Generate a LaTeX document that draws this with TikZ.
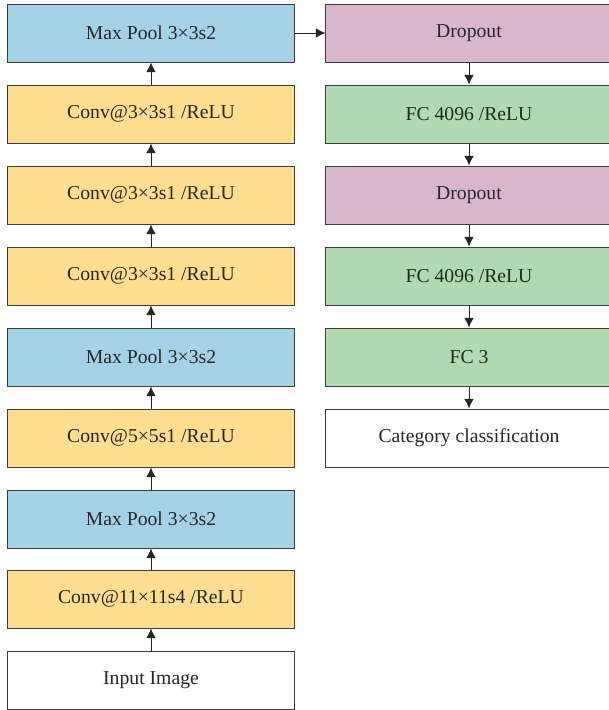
\documentclass[tikz,border=0pt]{standalone}
\usepackage{fontspec}
\setmainfont{Liberation Serif}
\usetikzlibrary{arrows.meta}

\definecolor{poolblue}{RGB}{166,210,232}
\definecolor{convyellow}{RGB}{253,222,145}
\definecolor{droppink}{RGB}{216,182,203}
\definecolor{fcgreen}{RGB}{176,218,178}
\definecolor{edgegray}{RGB}{60,60,60}

\begin{document}
\begin{tikzpicture}[
    x=0.025cm, y=-0.025cm,
    every node/.style={font=\fontsize{14}{16}\selectfont, text=black!85},
    layer/.style={rectangle, draw=edgegray, line width=0.7pt, minimum width=7.15cm, minimum height=1.45cm, inner sep=0pt},
    arrow/.style={-{Latex[length=2.4mm, width=2.4mm]}, line width=0.7pt, black!85}
]
\useasboundingbox (0,0) rectangle (608,710);

% Left column (feature extraction)
\node[layer, fill=poolblue]   (pool3) at (151,33)  {Max Pool 3×3s2};
\node[layer, fill=convyellow] (conv5) at (151,114) {Conv@3×3s1 /ReLU};
\node[layer, fill=convyellow] (conv4) at (151,195) {Conv@3×3s1 /ReLU};
\node[layer, fill=convyellow] (conv3) at (151,276) {Conv@3×3s1 /ReLU};
\node[layer, fill=poolblue]   (pool2) at (151,357) {Max Pool 3×3s2};
\node[layer, fill=convyellow] (conv2) at (151,438) {Conv@5×5s1 /ReLU};
\node[layer, fill=poolblue]   (pool1) at (151,519) {Max Pool 3×3s2};
\node[layer, fill=convyellow] (conv1) at (151,599) {Conv@11×11s4 /ReLU};
\node[layer, fill=white]      (input) at (151,680) {Input Image};

% Right column (classifier)
\node[layer, fill=droppink]   (drop1) at (469,33)  {Dropout};
\node[layer, fill=fcgreen]    (fc1)   at (469,114) {FC 4096 /ReLU};
\node[layer, fill=droppink]   (drop2) at (469,195) {Dropout};
\node[layer, fill=fcgreen]    (fc2)   at (469,276) {FC 4096 /ReLU};
\node[layer, fill=fcgreen]    (fc3)   at (469,357) {FC 3};
\node[layer, fill=white]      (out)   at (469,438) {Category classification};

% Arrows
\draw[arrow] (input) -- (conv1);
\draw[arrow] (conv1) -- (pool1);
\draw[arrow] (pool1) -- (conv2);
\draw[arrow] (conv2) -- (pool2);
\draw[arrow] (pool2) -- (conv3);
\draw[arrow] (conv3) -- (conv4);
\draw[arrow] (conv4) -- (conv5);
\draw[arrow] (conv5) -- (pool3);
\draw[arrow] (pool3) -- (drop1);
\draw[arrow] (drop1) -- (fc1);
\draw[arrow] (fc1) -- (drop2);
\draw[arrow] (drop2) -- (fc2);
\draw[arrow] (fc2) -- (fc3);
\draw[arrow] (fc3) -- (out);

\end{tikzpicture}
\end{document}
